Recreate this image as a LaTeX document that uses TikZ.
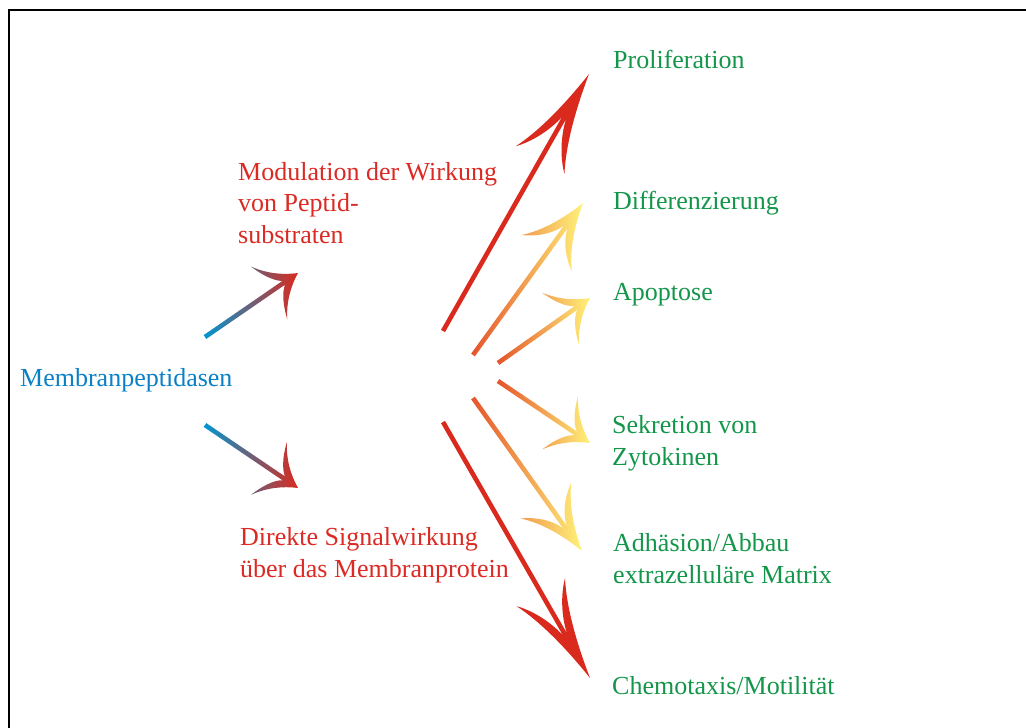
\documentclass[tikz,border=0pt]{standalone}
\usepackage{fontspec}
\setmainfont{Liberation Serif}
\usetikzlibrary{calc}
\definecolor{mpblue}{HTML}{0A80C6}
\definecolor{mpred}{HTML}{DA2A23}
\definecolor{mpgreen}{HTML}{14964A}
\definecolor{arrblue}{HTML}{0096D2}
\definecolor{arrred}{HTML}{DA2A1E}
\definecolor{arrorange}{HTML}{E5532A}
\definecolor{arryellow}{HTML}{FFF27A}

\tikzset{
  mptext/.style={anchor=base west, inner sep=0pt, align=left,
                 font=\fontsize{26}{31.5}\selectfont},
  srctext/.style={mptext, text=mpblue},
  midtext/.style={mptext, text=mpred},
  endtext/.style={mptext, text=mpgreen}
}

\newcommand{\shaftw}{2.3}
% hand drawn arrow: tail, tip, tail colour, tip colour, head length, head half width, notch
\newcommand{\fancyarrow}[7]{%
  \path let \p1 = ($(#2)-(#1)$) in
    \pgfextra{\pgfmathsetmacro\arrlen{veclen(\x1,\y1)}\xdef\arrlen{\arrlen}%
              \pgfmathsetmacro\arrang{atan2(\y1,\x1)}\xdef\arrang{\arrang}};
  \begin{scope}[shift={(#1)}, rotate=\arrang]
    \shade[left color=#3, right color=#4]
      (0,\shaftw) -- ({\arrlen-#7},\shaftw)
      .. controls ({\arrlen-0.58*#5},{0.12*#6}) and ({\arrlen-0.82*#5},{0.38*#6}) .. ({\arrlen-#5},{#6})
      .. controls ({\arrlen-0.75*#5},{0.55*#6}) and ({\arrlen-0.4*#5},{0.22*#6}) .. (\arrlen,0)
      .. controls ({\arrlen-0.4*#5},{-0.22*#6}) and ({\arrlen-0.75*#5},{-0.55*#6}) .. ({\arrlen-#5},{-#6})
      .. controls ({\arrlen-0.82*#5},{-0.38*#6}) and ({\arrlen-0.58*#5},{-0.12*#6}) .. ({\arrlen-#7},-\shaftw)
      -- (0,-\shaftw) -- cycle;
  \end{scope}}

\begin{document}
\begin{tikzpicture}[x=1pt, y=-1pt]
\useasboundingbox (0,0) rectangle (1026,728);

% frame
\draw[line width=1.4pt] (9,728) -- (9,10) -- (1026,10);

% texts (multi-line nodes sit on their last baseline)
\node[srctext] (mp) at (20,386) {Membranpeptidasen};
\node[midtext] (modul) at (238,243) {Modulation der Wirkung\\von Peptid-\\substraten};
\node[midtext] (direkt) at (240,577) {Direkte Signalwirkung\\über das Membranprotein};
\node[endtext] (prolif) at (613,68) {Proliferation};
\node[endtext] (diff) at (613,209) {Differenzierung};
\node[endtext] (apop) at (613,300) {Apoptose};
\node[endtext] (sekr) at (612,465) {Sekretion von\\Zytokinen};
\node[endtext] (adh) at (613,583) {Adhäsion/Abbau\\extrazelluläre Matrix};
\node[endtext] (chemo) at (612,694) {Chemotaxis/Motilität};

% arrow ends
\coordinate (modul-tail) at (205,337);
\coordinate (modul-tip) at (298,273);
\coordinate (direkt-tail) at (205,425);
\coordinate (direkt-tip) at (298,488);
\coordinate (prolif-tail) at (443,331);
\coordinate (prolif-tip) at (589,74);
\coordinate (diff-tail) at (473,355);
\coordinate (diff-tip) at (583,203);
\coordinate (apop-tail) at (498,363);
\coordinate (apop-tip) at (590,298);
\coordinate (sekr-tail) at (498,381);
\coordinate (sekr-tip) at (590,443);
\coordinate (adh-tail) at (473,398);
\coordinate (adh-tip) at (582,551);
\coordinate (chemo-tail) at (443,422);
\coordinate (chemo-tip) at (590,678);

% arrows
\fancyarrow{modul-tail}{modul-tip}{arrblue}{arrred}{35}{32}{17}
\fancyarrow{direkt-tail}{direkt-tip}{arrblue}{arrred}{35}{32}{17}
\fancyarrow{prolif-tail}{prolif-tip}{arrred}{arrred}{99}{28}{50}
\fancyarrow{diff-tail}{diff-tip}{arrorange}{arryellow}{62}{31}{29}
\fancyarrow{apop-tail}{apop-tip}{arrorange}{arryellow}{36}{32}{17}
\fancyarrow{sekr-tail}{sekr-tip}{arrorange}{arryellow}{36}{32}{17}
\fancyarrow{adh-tail}{adh-tip}{arrorange}{arryellow}{62}{31}{29}
\fancyarrow{chemo-tail}{chemo-tip}{arrred}{arrred}{99}{28}{50}
\end{tikzpicture}
\end{document}
